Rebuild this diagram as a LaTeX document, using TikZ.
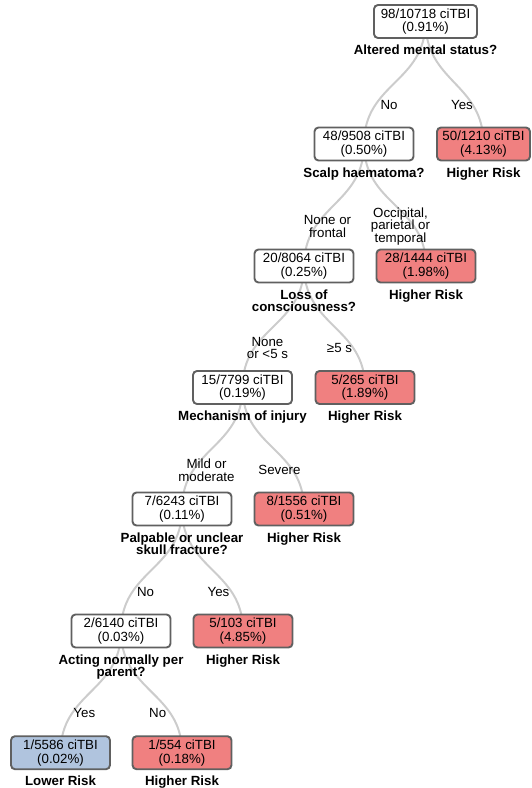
\documentclass[tikz,border=0pt]{standalone}
\usepackage{fontspec}
\setmainfont{Liberation Sans}
\usetikzlibrary{calc}
\definecolor{riskhigh}{RGB}{240,128,128}
\definecolor{risklow}{RGB}{176,196,222}
\definecolor{boxedge}{RGB}{96,96,96}
\definecolor{linkgray}{RGB}{204,204,204}
\pgfdeclarelayer{background}
\pgfsetlayers{background,main}
% curved tree link from the centre of one node to the centre of another
\newcommand\treelink[2]{%
  \draw[link] let \p1=(#1.center), \p2=(#2.center), \p3=($(\p1)!0.5!(\p2)$) in
    (\p1) .. controls (\x1,\y3) and (\x2,\y3) .. (\p2);}
\begin{document}
\begin{tikzpicture}[x=1pt,y=-1pt,
  every node/.style={inner sep=0pt},
  stat/.style={draw=boxedge, line width=1.9pt, rounded corners=4pt, fill=white,
    minimum width=99pt, minimum height=33pt, align=center,
    font=\fontsize{13.3}{13.8}\selectfont,
    execute at begin node={\rule{0pt}{15pt}}},
  high/.style={stat, fill=riskhigh},
  low/.style={stat, fill=risklow},
  question/.style={anchor=north, align=center, font=\fontsize{13.3}{12.5}\selectfont\bfseries},
  branch/.style={align=center, font=\fontsize{13.3}{12.5}\selectfont},
  link/.style={draw=linkgray, line width=2pt}]
\useasboundingbox (0,0) rectangle (531,788);

% count boxes
\node[stat, minimum width=103pt] (n0) at (425.5,21.5) {98/10718 ciTBI\\(0.91\%)};
\node[stat] (n1) at (364,144) {48/9508 ciTBI\\(0.50\%)};
\node[high, minimum width=93pt] (n2) at (483.5,144) {50/1210 ciTBI\\(4.13\%)};
\node[stat] (n3) at (304,266) {20/8064 ciTBI\\(0.25\%)};
\node[high] (n4) at (426,266) {28/1444 ciTBI\\(1.98\%)};
\node[stat] (n5) at (242.5,387.5) {15/7799 ciTBI\\(0.19\%)};
\node[high] (n6) at (365,387.5) {5/265 ciTBI\\(1.89\%)};
\node[stat] (n7) at (182,509) {7/6243 ciTBI\\(0.11\%)};
\node[high] (n8) at (304,509) {8/1556 ciTBI\\(0.51\%)};
\node[stat] (n9) at (121,631) {2/6140 ciTBI\\(0.03\%)};
\node[high] (n10) at (243,631) {5/103 ciTBI\\(4.85\%)};
\node[low] (n11) at (60.5,752.7) {1/5586 ciTBI\\(0.02\%)};
\node[high] (n12) at (182,752.7) {1/554 ciTBI\\(0.18\%)};

% questions and outcomes under the boxes
\node[question] (q0) at ($(n0.south)+(0,6)$) {Altered mental status?};
\node[question] (q1) at ($(n1.south)+(0,6)$) {Scalp haematoma?};
\node[question] (q2) at ($(n2.south)+(0,6)$) {Higher Risk};
\node[question] (q3) at ($(n3.south)+(0,6)$) {Loss of\\consciousness?};
\node[question] (q4) at ($(n4.south)+(0,6)$) {Higher Risk};
\node[question] (q5) at ($(n5.south)+(0,6)$) {Mechanism of injury};
\node[question] (q6) at ($(n6.south)+(0,6)$) {Higher Risk};
\node[question] (q7) at ($(n7.south)+(0,6)$) {Palpable or unclear\\skull fracture?};
\node[question] (q8) at ($(n8.south)+(0,6)$) {Higher Risk};
\node[question] (q9) at ($(n9.south)+(0,6)$) {Acting normally per\\parent?};
\node[question] (q10) at ($(n10.south)+(0,6)$) {Higher Risk};
\node[question] (q11) at ($(n11.south)+(0,6)$) {Lower Risk};
\node[question] (q12) at ($(n12.south)+(0,6)$) {Higher Risk};

% branch answers
\node[branch] (b1) at ($(n0.center)+(-36.5,83.3)$) {No};
\node[branch] (b2) at ($(n0.center)+(36.5,83.3)$) {Yes};
\node[branch] (b3) at ($(n1.center)+(-36.5,82.3)$) {None or\\frontal};
\node[branch] (b4) at ($(n1.center)+(36.5,82.3)$) {Occipital,\\parietal or\\temporal};
\node[branch] (b5) at ($(n3.center)+(-36.5,82)$) {None\\or <5 s};
\node[branch] (b6) at ($(n3.center)+(35.5,82)$) {≥5 s};
\node[branch] (b7) at ($(n5.center)+(-36,82.5)$) {Mild or\\moderate};
\node[branch] (b8) at ($(n5.center)+(37,82.5)$) {Severe};
\node[branch] (b9) at ($(n7.center)+(-36.5,82.7)$) {No};
\node[branch] (b10) at ($(n7.center)+(36.5,82.7)$) {Yes};
\node[branch] (b11) at ($(n9.center)+(-36.7,81.7)$) {Yes};
\node[branch] (b12) at ($(n9.center)+(36.7,81.7)$) {No};

% links behind everything
\begin{pgfonlayer}{background}
\treelink{n0}{n1}
\treelink{n0}{n2}
\treelink{n1}{n3}
\treelink{n1}{n4}
\treelink{n3}{n5}
\treelink{n3}{n6}
\treelink{n5}{n7}
\treelink{n5}{n8}
\treelink{n7}{n9}
\treelink{n7}{n10}
\treelink{n9}{n11}
\treelink{n9}{n12}
\end{pgfonlayer}
\end{tikzpicture}
\end{document}
